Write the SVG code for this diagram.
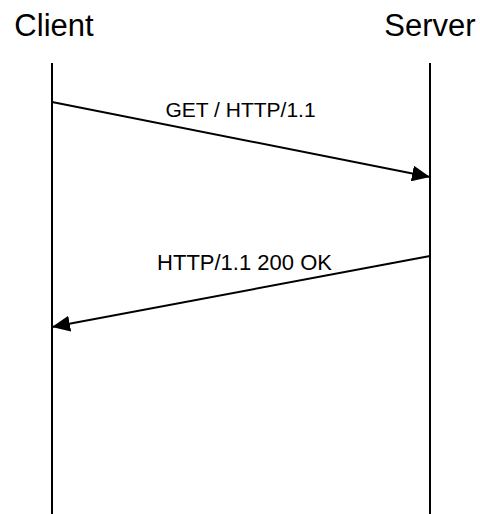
<svg xmlns="http://www.w3.org/2000/svg" width="480" height="514" viewBox="0 0 480 514">
<style>
.t{font-family:"Liberation Sans",Arial,sans-serif;fill:#000;text-anchor:middle}
.h{font-size:31px}
.l{font-size:21px}
.l2{font-size:22px}
.ln{stroke:#000;stroke-width:2;fill:none}
</style>
<defs>
<marker id="ah" markerUnits="userSpaceOnUse" markerWidth="19" markerHeight="16" refX="18" refY="8" orient="auto">
<path d="M0,0 L18,8 L0,16 Z" fill="#000"/>
</marker>
</defs>
<rect width="480" height="514" fill="#fff"/>
<g id="client">
<text class="t h" x="54" y="36">Client</text>
<line class="ln" x1="52" y1="63" x2="52" y2="514"/>
</g>
<g id="server">
<text class="t h" x="430" y="36">Server</text>
<line class="ln" x1="430" y1="63" x2="430" y2="514"/>
</g>
<g id="connectors">
<line class="ln" x1="52" y1="102" x2="430" y2="177" marker-end="url(#ah)"/>
<text class="t l" x="240.5" y="116.5">GET / HTTP/1.1</text>
<line class="ln" x1="430" y1="256" x2="52" y2="327" marker-end="url(#ah)"/>
<text class="t l2" x="244.5" y="270">HTTP/1.1 200 OK</text>
</g>
</svg>
